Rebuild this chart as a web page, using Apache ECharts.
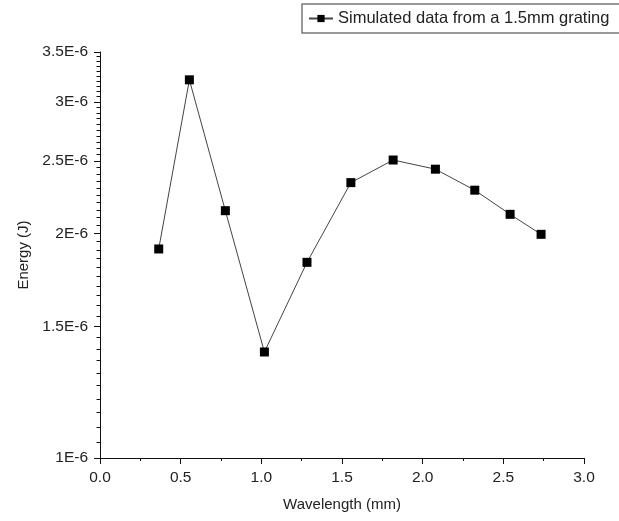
<!DOCTYPE html>
<html>
<head>
<meta charset="utf-8">
<script src="https://cdn.jsdelivr.net/npm/echarts@6/dist/echarts.min.js"></script>
<style>html,body{margin:0;padding:0;background:#fff}#c{width:619px;height:521px}</style>
</head>
<body>
<div id="c"></div>
<script>
const seriesName = 'Simulated data from a 1.5mm grating';
const wavelength = [0.364, 0.554, 0.777, 1.019, 1.283, 1.555, 1.817, 2.079, 2.323, 2.542, 2.734];
// Energy in units of 1E-6 J
const energy = [1.906, 3.212, 2.145, 1.387, 1.829, 2.339, 2.508, 2.438, 2.285, 2.121, 1.994];
const yTickValues = [1, 1.5, 2, 2.5, 3, 3.5];
const yTickLabels = ['1E-6', '1.5E-6', '2E-6', '2.5E-6', '3E-6', '3.5E-6'];
const yMinorValues = [1.05, 1.1, 1.15, 1.2, 1.25, 1.3, 1.35, 1.4, 1.45, 1.55, 1.6, 1.65, 1.7, 1.75, 1.8, 1.85, 1.9, 1.95,
  2.05, 2.1, 2.15, 2.2, 2.25, 2.3, 2.35, 2.4, 2.45, 2.55, 2.6, 2.65, 2.7, 2.75, 2.8, 2.85, 2.9, 2.95,
  3.05, 3.1, 3.15, 3.2, 3.25, 3.3, 3.35, 3.4, 3.45];

const FONT = '"Liberation Sans", Arial, sans-serif';
const TXT = '#222';
const chart = echarts.init(document.getElementById('c'), null, {renderer: 'canvas'});
const labelFor = v => { const i = yTickValues.findIndex(t => Math.abs(t - v) < 1e-6); return i >= 0 ? yTickLabels[i] : ''; };
const points = wavelength.map((x, i) => [x, energy[i]]);

chart.setOption({
  animation: false,
  backgroundColor: '#fff',
  grid: {left: 100, right: 35, top: 52, bottom: 63, containLabel: false},
  legend: {
    left: 302, top: 4,
    padding: [6, 30, 6, 6],
    borderColor: '#777', borderWidth: 1.5,
    itemWidth: 24, itemHeight: 9, itemGap: 5,
    textStyle: {fontFamily: FONT, fontSize: 16.5, color: TXT},
    data: [seriesName]
  },
  xAxis: {
    type: 'value', min: 0, max: 3, interval: 0.5,
    name: 'Wavelength (mm)', nameLocation: 'middle', nameGap: 39,
    nameTextStyle: {fontFamily: FONT, fontSize: 15, color: TXT},
    axisLine: {show: true, onZero: false, lineStyle: {color: '#111', width: 1}},
    axisTick: {show: true, inside: false, length: 6, lineStyle: {color: '#111'}},
    minorTick: {show: true, splitNumber: 2, length: 3, lineStyle: {color: '#111'}},
    splitLine: {show: false},
    axisLabel: {fontFamily: FONT, fontSize: 15.5, color: TXT, margin: 12, formatter: v => v.toFixed(1)}
  },
  yAxis: [{
    type: 'log', min: 1, max: 3.5, logBase: 10,
    name: 'Energy (J)', nameLocation: 'middle', nameGap: 60, nameRotate: 90,
    nameTextStyle: {fontFamily: FONT, fontSize: 15, color: TXT},
    axisLine: {show: true, onZero: false, lineStyle: {color: '#111', width: 1}},
    axisTick: {show: true, inside: false, length: 6, customValues: yTickValues, lineStyle: {color: '#111'}},
    splitLine: {show: false},
    axisLabel: {fontFamily: FONT, fontSize: 15.5, color: TXT, margin: 12, customValues: yTickValues,
      formatter: v => labelFor(Number(v))}
  }, {
    type: 'log', min: 1, max: 3.5, logBase: 10, position: 'left', offset: 0,
    axisLine: {show: false},
    axisTick: {show: true, inside: false, length: 3.5, customValues: yMinorValues, lineStyle: {color: '#111'}},
    axisLabel: {show: false},
    splitLine: {show: false}
  }],
  series: [{
    name: seriesName,
    type: 'line',
    yAxisIndex: 0,
    data: points,
    symbol: 'rect', symbolSize: 9,
    itemStyle: {color: '#000'},
    lineStyle: {color: '#444', width: 1}
  }, {
    name: 'minor-tick-anchor',
    type: 'line',
    yAxisIndex: 1,
    data: points,
    showSymbol: false, silent: true,
    lineStyle: {opacity: 0}
  }]
});
</script>
</body>
</html>
